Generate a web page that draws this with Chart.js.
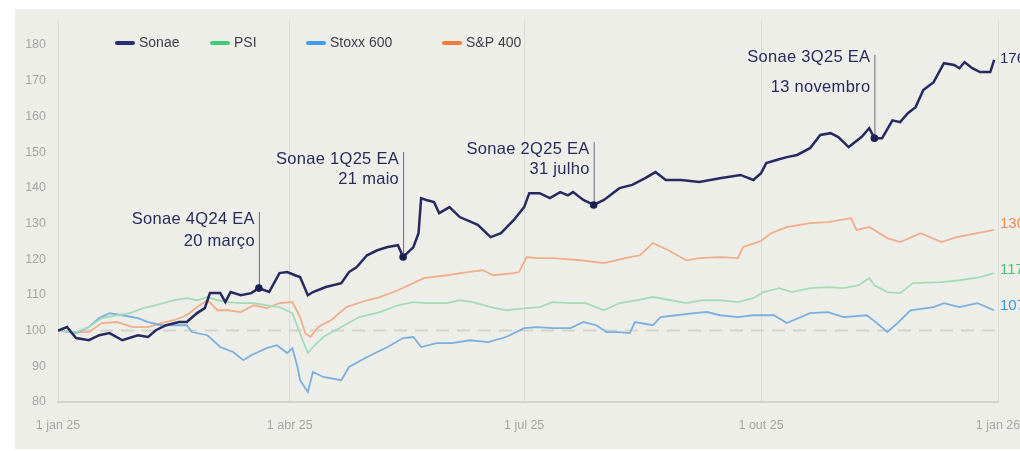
<!DOCTYPE html>
<html><head><meta charset="utf-8">
<script src="https://cdn.jsdelivr.net/npm/chart.js@4.4.1/dist/chart.umd.min.js"></script>
<style>
html,body{margin:0;padding:0;background:#fff;overflow:hidden;width:1020px;height:451px;}
#wrap{position:absolute;left:0;top:0;width:1060px;height:451px;}
canvas{display:block}
</style></head><body>
<div id="wrap"><canvas id="c" width="1060" height="451"></canvas></div>
<script>
// ---------- data ----------
const xTickDays = [0, 90, 181, 273, 365];
const xTickLabels = ['1 jan 25', '1 abr 25', '1 jul 25', '1 out 25', '1 jan 26'];
const yTicks = [80, 90, 100, 110, 120, 130, 140, 150, 160, 170, 180];
const seriesNames = ['Sonae', 'PSI', 'Stoxx 600', 'S&P 400'];

const sonaeDays = [0,3.5,7,12,16,20,25,31,35,38,42,47,50,54,57,59,63,65,67,71,75,78,82,86,89,92,94,97,99,104,110,113,116,120,124,128,132,134,138,140,141,143,146,148,152,156,163,168,172,177,181,183,187,191,195,198,200,204,208,212,218,223,228,232,236,242,249,257,265,270,273,275,279,283,287,292,296,300,303,307,312,315,317,320,324,327,330,333,336,340,344,348,350,352,355,358,362,363.5];
const sonaeValues = [100,101.0,97.9,97.3,98.7,99.3,97.3,98.7,98.2,100.1,101.5,102.4,102.4,104.9,106.3,110.5,110.5,108.0,110.8,109.9,110.5,111.9,110.8,116.1,116.4,115.5,115.0,109.9,110.8,112.2,113.3,116.4,117.8,121.1,122.5,123.4,123.9,120.6,123.4,127.3,137.1,136.6,136.0,132.9,134.6,131.8,129.6,126.2,127.3,131.0,134.6,138.5,138.5,137.1,138.8,137.9,138.8,136.6,135.2,136.6,139.9,140.8,142.7,144.4,142.2,142.2,141.6,142.7,143.6,142.2,144.1,146.9,147.8,148.6,149.2,151.1,154.8,155.3,154.2,151.4,154.2,156.7,153.9,153.9,158.9,158.4,160.9,162.6,167.4,169.6,174.9,174.4,173.5,175.2,173.5,172.4,172.4,175.8];

const psiDays = [0,7,12,17,23,28,33,38,45,50,54,58,62,66,71,76,81,86,91,95,97,99,103,110,117,125,132,138,143,151,156,161,168,174,182,187,192,199,205,212,218,225,231,238,244,250,257,264,270,274,280,285,292,299,305,311,315,317,322,327,332,343,350,358,363.5];
const psiValues = [100,99.6,101.0,103.5,104.3,104.9,106.3,107.1,108.5,109.1,108.5,109.4,108.5,108.0,107.7,107.7,107.1,106.6,104.9,97.3,93.7,95.4,98.2,101.0,103.8,105.2,107.1,108.0,107.7,107.7,108.5,108.0,106.6,105.7,106.3,106.6,108.0,107.7,107.7,105.7,107.7,108.5,109.4,108.5,107.7,108.5,108.5,108.0,109.1,110.8,111.9,110.8,111.9,112.2,111.9,112.7,114.7,112.7,110.8,110.5,113.3,113.6,114.1,115.0,116.1];

const stoxxDays = [0,7,12,16,20,25,31,35,40,45,50,52,58,63,68,72,75,81,85,89,91,93,94,97,99,103,110,113,120,128,134,138,141,147,153,160,167,174,181,186,192,199,204,209,213,218,222,224,231,234,240,247,252,257,264,270,278,283,292,299,305,314,318,322,326,331,340,344,350,357,363.5];
const stoxxValues = [100,99.3,101.0,103.5,104.9,104.3,103.5,102.4,101.5,101.5,101.5,99.6,98.7,95.4,94.0,91.7,93.1,95.1,95.9,93.7,95.1,89.8,86.1,82.8,88.4,87.0,86.1,89.8,92.6,95.4,97.9,98.2,95.4,96.5,96.5,97.3,96.8,98.2,100.7,101.0,100.7,100.7,102.4,101.5,99.6,99.6,99.3,102.4,101.5,103.8,104.3,104.9,105.2,104.3,103.8,104.3,104.3,102.1,104.9,105.2,103.8,104.3,102.1,99.6,102.1,105.7,106.6,107.7,106.6,107.7,105.7];

const spDays = [0,7,12,17,23,29,35,40,45,50,54,58,62,66,71,76,81,86,91,94,96,98,101,106,112,120,125,132,138,142,151,159,165,169,177,179,182,186,192,203,212,222,226,231,237,244,249,257,264,266,273,277,283,292,299,308,310,315,322,327,335,343,349,357,363.5];
const spValues = [100,99.6,99.6,102.1,102.4,101.0,101.0,102.1,102.9,104.3,106.6,108.5,105.7,105.7,105.2,107.1,106.3,107.7,108.0,103.8,99.3,98.2,101.0,102.9,106.6,108.5,109.4,111.3,113.3,114.7,115.5,116.4,116.9,115.5,116.1,116.4,120.6,120.3,120.3,119.7,118.9,120.6,121.1,124.5,122.5,119.7,120.3,120.6,120.3,123.4,125.1,127.3,129.0,130.1,130.4,131.5,128.2,129.0,125.9,124.8,127.3,124.8,126.2,127.3,128.2];

const endLabels = ['176', '117', '107', '130'];
const endLabelValues = [176, 117, 107, 130];

const eventTitles = ['Sonae 4Q24 EA', 'Sonae 1Q25 EA', 'Sonae 2Q25 EA', 'Sonae 3Q25 EA'];
const eventDates = ['20 março', '21 maio', '31 julho', '13 novembro'];
const eventDays = [78, 134, 208, 317];
const eventValues = [111.9, 120.6, 135.2, 153.9];

// ---------- layout / style (not data) ----------
const eventLayout = [
  {lineTop: 133.2, t1: 131.2, t2: 125.1},
  {lineTop: 150.0, t1: 147.8, t2: 142.2},
  {lineTop: 152.8, t1: 150.6, t2: 145.0},
  {lineTop: 177.2, t1: 176.6, t2: 168.2}
];
const lineColors = ['#262a5f', '#a3ddb7', '#7aafe0', '#f2ad89'];
const legendColors = ['#2a2e6c', '#3fcc7a', '#409ce6', '#f07c40'];
const endColors = ['#262a5f', '#3fc476', '#3d95e0', '#f08a50'];
const lineWidths = [2.5, 1.8, 1.8, 1.8];
const FONT = '"Liberation Sans", Arial, sans-serif';

function pts(d, v) { return d.map((x, i) => ({x: x, y: v[i]})); }
const seriesData = [pts(sonaeDays, sonaeValues), pts(psiDays, psiValues), pts(stoxxDays, stoxxValues), pts(spDays, spValues)];

const bgPlugin = {
  id: 'bg',
  beforeDraw(chart) {
    const ctx = chart.ctx;
    ctx.save();
    ctx.fillStyle = '#eeeee9';
    ctx.fillRect(15, 9, chart.width, 440);
    ctx.restore();
  },
  beforeDatasetsDraw(chart) {
    const {ctx, chartArea, scales} = chart;
    const y = scales.y.getPixelForValue(100);
    ctx.save();
    ctx.strokeStyle = '#d3d3ce';
    ctx.lineWidth = 2;
    ctx.setLineDash([13, 8]);
    ctx.beginPath();
    ctx.moveTo(chartArea.left, y);
    ctx.lineTo(chartArea.right, y);
    ctx.stroke();
    ctx.restore();
  },
  afterDatasetsDraw(chart) {
    const {ctx, scales} = chart;
    const xs = scales.x, ys = scales.y;
    ctx.save();
    eventDays.forEach((d, i) => {
      const px = xs.getPixelForValue(d);
      const py = ys.getPixelForValue(eventValues[i]);
      const L = eventLayout[i];
      ctx.strokeStyle = 'rgba(60,62,95,0.75)';
      ctx.lineWidth = 1;
      ctx.beginPath();
      ctx.moveTo(px + 0.5, ys.getPixelForValue(L.lineTop));
      ctx.lineTo(px + 0.5, py);
      ctx.stroke();
      ctx.fillStyle = '#1c1f4f';
      ctx.beginPath();
      ctx.arc(px, py, 3.8, 0, Math.PI * 2);
      ctx.fill();
      ctx.fillStyle = '#282b5c';
      ctx.font = '16.5px ' + FONT;
      try { ctx.letterSpacing = '0.3px'; } catch (e) {}
      ctx.textAlign = 'right';
      ctx.textBaseline = 'middle';
      ctx.fillText(eventTitles[i], px - 4, ys.getPixelForValue(L.t1));
      ctx.fillText(eventDates[i], px - 4, ys.getPixelForValue(L.t2));
      try { ctx.letterSpacing = '0px'; } catch (e) {}
    });
    ctx.restore();
  },
  afterDraw(chart) {
    const {ctx, scales} = chart;
    ctx.save();
    ctx.font = '15px ' + FONT;
    ctx.textAlign = 'left';
    ctx.textBaseline = 'middle';
    endLabels.forEach((t, i) => {
      ctx.fillStyle = endColors[i];
      ctx.fillText(t, 1000, scales.y.getPixelForValue(endLabelValues[i]));
    });
    const lx = [115, 210, 306, 442];
    const ly = 43;
    ctx.font = '14px ' + FONT;
    seriesNames.forEach((n, i) => {
      ctx.strokeStyle = legendColors[i];
      ctx.lineWidth = 4;
      ctx.lineCap = 'round';
      ctx.beginPath();
      ctx.moveTo(lx[i] + 2, ly);
      ctx.lineTo(lx[i] + 18, ly);
      ctx.stroke();
      ctx.fillStyle = '#3e3e4a';
      ctx.fillText(n, lx[i] + 24, ly);
    });
    ctx.restore();
  }
};

new Chart(document.getElementById('c'), {
  type: 'line',
  data: {
    datasets: seriesNames.map((n, i) => ({
      label: n,
      data: seriesData[i],
      borderColor: lineColors[i],
      backgroundColor: lineColors[i],
      borderWidth: lineWidths[i],
      pointRadius: 0,
      tension: 0,
      fill: false
    }))
  },
  options: {
    responsive: false,
    animation: false,
    layout: {padding: {left: 0, right: 62, top: 20, bottom: 0}},
    plugins: {legend: {display: false}, tooltip: {enabled: false}},
    scales: {
      x: {
        type: 'linear', min: 0, max: 365,
        afterBuildTicks(s) { s.ticks = xTickDays.map(v => ({value: v})); },
        afterFit(s) { s.height = 49; },
        ticks: {
          callback(v) { const i = xTickDays.indexOf(v); return i >= 0 ? xTickLabels[i] : ''; },
          color: '#a6a6a6', font: {family: FONT, size: 12.5}, padding: 16, maxRotation: 0, autoSkip: false
        },
        grid: {color: '#dcdcd7', lineWidth: 1, drawTicks: false},
        border: {display: true, color: '#d4d4cf', width: 2}
      },
      y: {
        min: 80, max: 187,
        afterBuildTicks(s) { s.ticks = yTicks.map(v => ({value: v})); },
        afterFit(s) { s.width = 58; },
        ticks: {color: '#a6a6a6', font: {family: FONT, size: 12.5}, padding: 4},
        grid: {display: false},
        border: {display: false}
      }
    }
  },
  plugins: [bgPlugin]
});
</script>
</body></html>
